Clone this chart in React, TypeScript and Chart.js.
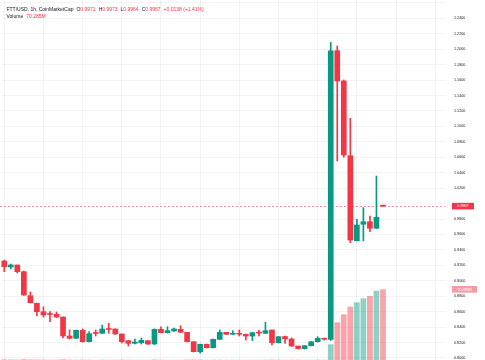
import React, { useEffect, useRef } from "react";
import { Chart, registerables } from "chart.js";

Chart.register(...registerables);

// ---- data ----
const symbolTitle = "FTT/USD, 1h, CoinMarketCap";
const changeText = "+0.0138 (+1.41%)";

const opens = [
  0.9256, 0.9179, 0.9205, 0.9118, 0.8807, 0.8709, 0.8600, 0.8570, 0.8566, 0.8531,
  0.8285, 0.8255, 0.8359, 0.8211, 0.8324, 0.8320, 0.8376, 0.8376, 0.8311, 0.8224,
  0.8190, 0.8198, 0.8224, 0.8181, 0.8372, 0.8328, 0.8350, 0.8372, 0.8333, 0.8211,
  0.8082, 0.8177, 0.8133, 0.8242, 0.8333, 0.8307, 0.8320, 0.8307, 0.8285, 0.8328,
  0.8320, 0.8363, 0.8198, 0.8278, 0.8246, 0.8155, 0.8120, 0.8159, 0.8211, 0.8255,
  0.8242, 1.1980, 1.1588, 1.0620, 0.9519, 0.9732, 0.9765, 0.9680, 0.9971,
];
const highs = [
  0.9269, 0.9218, 0.9205, 0.9127, 0.8855, 0.8712, 0.8664, 0.8600, 0.8596, 0.8531,
  0.8363, 0.8363, 0.8376, 0.8341, 0.8363, 0.8427, 0.8449, 0.8376, 0.8311, 0.8227,
  0.8246, 0.8259, 0.8227, 0.8376, 0.8405, 0.8405, 0.8389, 0.8418, 0.8333, 0.8214,
  0.8181, 0.8181, 0.8246, 0.8363, 0.8333, 0.8354, 0.8363, 0.8311, 0.8330, 0.8363,
  0.8462, 0.8363, 0.8278, 0.8285, 0.8259, 0.8155, 0.8162, 0.8214, 0.8276, 0.8259,
  1.2089, 1.2041, 1.1601, 1.1105, 0.9797, 0.9947, 0.9839, 1.0357, 0.9973,
];
const lows = [
  0.9118, 0.9153, 0.9101, 0.8810, 0.8712, 0.8544, 0.8531, 0.8470, 0.8525, 0.8259,
  0.8246, 0.8253, 0.8207, 0.8207, 0.8285, 0.8317, 0.8320, 0.8304, 0.8194, 0.8155,
  0.8181, 0.8181, 0.8175, 0.8175, 0.8324, 0.8324, 0.8343, 0.8330, 0.8207, 0.8078,
  0.8061, 0.8130, 0.8130, 0.8240, 0.8304, 0.8304, 0.8285, 0.8233, 0.8224, 0.8285,
  0.8317, 0.8168, 0.8194, 0.8190, 0.8149, 0.8117, 0.8117, 0.8155, 0.8207, 0.8233,
  0.8227, 1.0552, 1.0600, 0.9493, 0.9516, 0.9516, 0.9636, 0.9677, 0.9964,
];
const closes = [
  0.9183, 0.9205, 0.9118, 0.8816, 0.8716, 0.8600, 0.8557, 0.8563, 0.8531, 0.8285,
  0.8255, 0.8359, 0.8211, 0.8315, 0.8317, 0.8376, 0.8369, 0.8311, 0.8211, 0.8190,
  0.8207, 0.8229, 0.8181, 0.8372, 0.8328, 0.8354, 0.8376, 0.8333, 0.8211, 0.8082,
  0.8177, 0.8133, 0.8242, 0.8333, 0.8307, 0.8320, 0.8307, 0.8285, 0.8328, 0.8322,
  0.8354, 0.8198, 0.8276, 0.8246, 0.8155, 0.8120, 0.8159, 0.8211, 0.8255, 0.8242,
  1.1980, 1.1588, 1.0629, 0.9528, 0.9723, 0.9765, 0.9680, 0.9822, 0.9967,
];
// volume in millions
const volumes = [
  0.6, 0.5, 0.4, 0.8, 0.6, 0.5, 0.4, 0.3, 0.3, 0.7,
  0.4, 0.3, 0.4, 0.3, 0.2, 0.3, 0.2, 0.3, 0.4, 0.3,
  0.2, 0.2, 0.2, 0.5, 0.3, 0.2, 0.2, 0.2, 0.4, 0.5,
  0.4, 0.2, 0.3, 0.3, 0.2, 0.2, 0.2, 0.2, 0.2, 0.2,
  0.3, 0.4, 0.3, 0.2, 0.3, 0.3, 0.2, 0.2, 0.3, 0.2,
  15.6, 37.5, 45.4, 53.0, 57.4, 61.3, 63.6, 68.9, 70.285,
];
const emptySlots = 9;
const priceMin = 0.7974;
const priceMax = 1.2637;
const priceStep = 0.02;
const volumeMax = 358;

// ---- styles ----
const UP = "#089981";
const DOWN = "#F23645";
const UP_VOL = "rgba(8,153,129,0.45)";
const DOWN_VOL = "rgba(242,54,69,0.45)";
const GRID = "rgba(42,46,57,0.06)";
const TEXT = "#131722";
const FONT = '"Liberation Sans", Arial, sans-serif';

const fmtVol = (v: number) => v.toFixed(3) + "M";

const zeroPad = (s: any) => {
  s.paddingTop = 0;
  s.paddingBottom = 0;
  s.paddingLeft = 0;
  s.paddingRight = 0;
};

const tagPlugin = {
  id: "tags",
  beforeDatasetsDraw(chart: any) {
    const { ctx, chartArea } = chart;
    const y = Math.round(chart.scales.y.getPixelForValue(closes[closes.length - 1])) + 0.5;
    ctx.save();
    ctx.strokeStyle = "rgba(242,54,69,0.55)";
    ctx.lineWidth = 1;
    ctx.setLineDash([2, 2]);
    ctx.beginPath();
    ctx.moveTo(chartArea.left - 1, y);
    ctx.lineTo(chartArea.right, y);
    ctx.stroke();
    ctx.restore();
  },
  afterDraw(chart: any) {
    const { ctx, chartArea } = chart;
    const last = closes.length - 1;
    const py = chart.scales.y.getPixelForValue(closes[last]);
    const vy = chart.scales.vol.getPixelForValue(volumes[last]);
    const x0 = chartArea.right + 7;
    ctx.save();
    ctx.font = `3.7px ${FONT}`;
    ctx.textBaseline = "middle";
    ctx.textAlign = "center";
    ctx.fillStyle = DOWN;
    ctx.fillRect(x0, py - 3.3, 22, 6.6);
    ctx.fillStyle = "#ffffff";
    ctx.fillText(closes[last].toFixed(4), x0 + 11, py + 0.2);
    ctx.fillStyle = "rgba(242,54,69,0.5)";
    ctx.fillRect(x0, vy - 3.3, 25, 6.6);
    ctx.fillStyle = "#ffffff";
    ctx.fillText(fmtVol(volumes[last]), x0 + 12.5, vy + 0.2);
    ctx.restore();
  },
};

export default function App() {
  const ref = useRef<HTMLCanvasElement>(null);

  useEffect(() => {
    const n = opens.length + emptySlots;
    const labels = Array.from({ length: n }, (_, i) => String(i + 1));
    const colors = opens.map((o, i) => (closes[i] >= o ? UP : DOWN));
    const volColors = opens.map((o, i) => (closes[i] >= o ? UP_VOL : DOWN_VOL));
    const lastClose = closes[closes.length - 1];

    const chart = new Chart(ref.current as HTMLCanvasElement, {
      type: "bar",
      data: {
        labels,
        datasets: [
          {
            label: "body",
            data: opens.map((o, i) => [o, closes[i]]) as any,
            backgroundColor: colors,
            barThickness: 5,
            minBarLength: 1,
            grouped: false,
            yAxisID: "y",
            order: 1,
          } as any,
          {
            label: "wick",
            data: lows.map((l, i) => [l, highs[i]]) as any,
            backgroundColor: colors,
            barThickness: 1,
            grouped: false,
            yAxisID: "y",
            order: 2,
          } as any,
          {
            label: "volume",
            data: volumes,
            backgroundColor: volColors,
            barPercentage: 0.88,
            categoryPercentage: 1,
            grouped: false,
            yAxisID: "vol",
            order: 3,
          } as any,
        ],
      },
      options: {
        animation: false,
        responsive: false,
        maintainAspectRatio: false,
        layout: { autoPadding: false, padding: { left: 1, right: 0, top: 0, bottom: 0 } } as any,
        plugins: { legend: { display: false }, tooltip: { enabled: false } },
        scales: {
          x: {
            type: "category",
            offset: true,
            afterFit: (s: any) => {
              s.height = 0;
              zeroPad(s);
            },
            grid: {
              offset: false,
              drawTicks: false,
              color: (c: any) => (c.index % 6 === 0 ? GRID : "rgba(0,0,0,0)"),
            },
            border: { display: false },
            ticks: { display: false, autoSkip: false },
          } as any,
          y: {
            type: "linear",
            position: "right",
            min: priceMin,
            max: priceMax,
            afterFit: (s: any) => {
              s.width = 40;
              zeroPad(s);
            },
            grid: { color: GRID, drawTicks: false },
            border: { display: false },
            ticks: {
              stepSize: priceStep,
              includeBounds: false,
              padding: 9,
              color: TEXT,
              font: { family: FONT, size: 3.7 },
              callback: (v: any) => {
                const val = Number(v);
                if (val > 1.25) return "";
                if (Math.abs(val - lastClose) < 0.006) return "";
                return val.toFixed(4);
              },
            },
          } as any,
          vol: {
            type: "linear",
            display: false,
            min: 0,
            max: volumeMax,
          },
        },
      },
      plugins: [tagPlugin],
    });
    return () => chart.destroy();
  }, []);

  const red = { color: DOWN };
  const gap = { marginLeft: 3 };
  return (
    <div style={{ position: "fixed", left: 0, top: 0, width: 485, height: 360, background: "#fff", overflow: "hidden" }}>
      <canvas ref={ref} width={485} height={360} style={{ display: "block", width: 485, height: 360 }} />
      <div
        style={{
          position: "absolute",
          left: 6.5,
          top: 6,
          fontFamily: FONT,
          fontSize: 5,
          lineHeight: "7.2px",
          color: TEXT,
          whiteSpace: "nowrap",
        }}
      >
        <div>
          <span>{symbolTitle}</span>
          <span style={gap}>O</span>
          <span style={red}>{opens[opens.length - 1].toFixed(4)}</span>
          <span style={gap}>H</span>
          <span style={red}>{highs[highs.length - 1].toFixed(4)}</span>
          <span style={gap}>L</span>
          <span style={red}>{lows[lows.length - 1].toFixed(4)}</span>
          <span style={gap}>C</span>
          <span style={red}>{closes[closes.length - 1].toFixed(4)}</span>
          <span style={{ ...red, ...gap }}>{changeText}</span>
        </div>
        <div>
          <span>Volume</span>
          <span style={{ ...red, ...gap }}>{fmtVol(volumes[volumes.length - 1])}</span>
        </div>
      </div>
    </div>
  );
}
